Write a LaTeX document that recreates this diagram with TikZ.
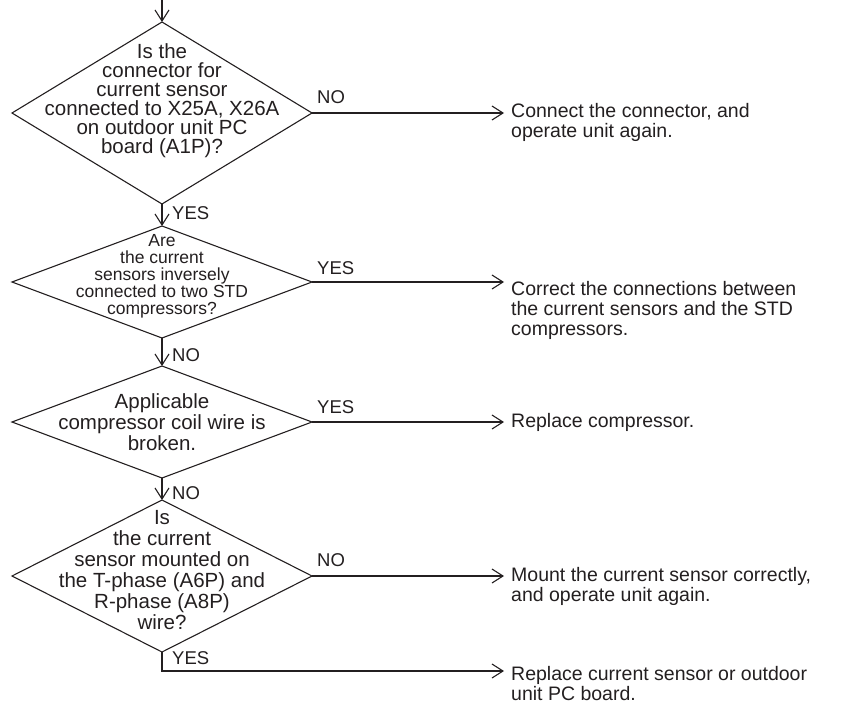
\documentclass[tikz,border=0pt]{standalone}
\usepackage{fontspec}
\setmainfont{Liberation Sans}
\usetikzlibrary{shapes.geometric,arrows.meta}
\definecolor{ink}{RGB}{35,31,32}

\begin{document}
\begin{tikzpicture}[x=1pt,y=-1pt,color=ink,
    flow/.style={line width=1.1pt,-{Straight Barb[length=11pt,width=14pt]}},
    decision/.style={diamond,draw,line width=1.1pt,minimum width=300pt,inner sep=0pt,outer sep=0pt},
    qtext/.style={align=center,inner sep=0pt},
    answer/.style={anchor=west,align=left,inner xsep=7pt,inner ysep=0pt,font=\fontsize{19.5}{20}\selectfont},
    tag/.style={anchor=west,inner sep=0pt,font=\fontsize{18.5}{20}\selectfont}]
    \useasboundingbox (0,0) rectangle (866,709);

    % Decisions
    \node[decision,minimum height=182pt] (q1) at (162,113) {};
    \node[decision,minimum height=112pt] (q2) at (162,282) {};
    \node[decision,minimum height=112pt] (q3) at (162,422) {};
    \node[decision,minimum height=152pt] (q4) at (162,576) {};

    % Questions
    \node[qtext,font=\fontsize{20.5}{19}\selectfont] (t1) at (162,101)
        {Is the\\connector for\\current sensor\\connected to X25A, X26A\\on outdoor unit PC\\board (A1P)?};
    \node[qtext,font=\fontsize{17.5}{17}\selectfont] (t2) at (162,276)
        {Are\\the current\\sensors inversely\\connected to two STD\\compressors?};
    \node[qtext,font=\fontsize{20.5}{21}\selectfont] (t3) at (162,422)
        {Applicable\\compressor coil wire is\\broken.};
    \node[qtext,font=\fontsize{20.5}{21}\selectfont] (t4) at (162,570)
        {Is\\the current\\sensor mounted on\\the T-phase (A6P) and\\R-phase (A8P)\\wire?};

    % Actions
    \node[answer] (r1) at (504,122) {Connect the connector, and\\operate unit again.};
    \node[answer] (r2) at (504,310) {Correct the connections between\\the current sensors and the STD\\compressors.};
    \node[answer] (r3) at (504,422) {Replace compressor.};
    \node[answer] (r4) at (504,586) {Mount the current sensor correctly,\\and operate unit again.};
    \node[answer] (r5) at (504,684) {Replace current sensor or outdoor\\unit PC board.};

    % Branch labels
    \node[tag] (n1) at (317,97) {NO};
    \node[tag] (y1) at (172,213) {YES};
    \node[tag] (y2) at (317,268) {YES};
    \node[tag] (n2) at (172,355) {NO};
    \node[tag] (y3) at (317,407) {YES};
    \node[tag] (n3) at (172,493) {NO};
    \node[tag] (n4) at (317,560) {NO};
    \node[tag] (y4) at (172,658) {YES};

    % Connectors
    \coordinate (start) at (162,0);
    \coordinate (turn) at (162,671);
    \draw[flow] (start) -- (q1.north);
    \draw[flow] (q1.east) -- (q1.east -| r1.west);
    \draw[flow] (q1.south) -- (q2.north);
    \draw[flow] (q2.east) -- (q2.east -| r2.west);
    \draw[flow] (q2.south) -- (q3.north);
    \draw[flow] (q3.east) -- (q3.east -| r3.west);
    \draw[flow] (q3.south) -- (q4.north);
    \draw[flow] (q4.east) -- (q4.east -| r4.west);
    \draw[flow] (q4.south) -- (turn) -- (turn -| r5.west);
\end{tikzpicture}
\end{document}
